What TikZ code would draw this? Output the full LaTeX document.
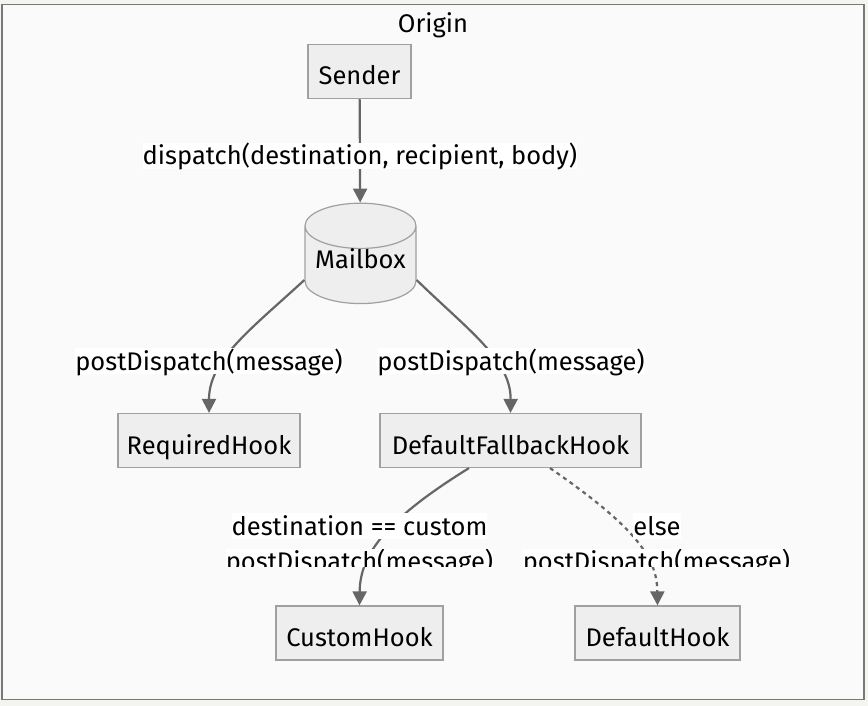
\documentclass[tikz,border=0pt]{standalone}
\usepackage{fontspec}
\setmainfont{Fira Sans}
\usetikzlibrary{positioning,shapes.geometric,arrows.meta,calc}
\definecolor{hookline}{RGB}{102,102,102}
\definecolor{hookfill}{RGB}{238,238,238}
\definecolor{hookborder}{RGB}{160,160,160}
\definecolor{hookframe}{RGB}{120,120,120}
\definecolor{hookcluster}{RGB}{250,250,250}
\definecolor{hookpage}{RGB}{244,244,240}
\tikzset{
    hook text/.style={font=\fontsize{25.5}{30}\selectfont, text=black},
    hook box/.style={
        rectangle,
        draw=hookborder,
        fill=hookfill,
        line width=1.2pt,
        minimum height=54pt,
        inner sep=0pt,
        text height=27pt,
        text depth=0pt,
        hook text,
    },
    hook db/.style={
        cylinder,
        shape border rotate=90,
        aspect=0.5,
        draw=hookborder,
        fill=hookfill,
        line width=1.2pt,
        minimum width=111pt,
        minimum height=98pt,
        inner sep=0pt,
        text depth=12pt,
        hook text,
    },
    hook flow/.style={draw=hookline, line width=2.2pt, -{Triangle[length=14pt,width=14pt]}},
    hook dotted/.style={hook flow, dash pattern=on 4pt off 4pt},
    hook label/.style={fill=white, inner sep=0pt, text height=22pt, text depth=4pt, hook text}
}

\begin{document}
\begin{tikzpicture}[x=1pt,y=-1pt]

\useasboundingbox (0,0) rectangle (868,706);
\fill[hookpage] (0,0) rectangle (868,706);
\draw[hookframe, fill=hookcluster, line width=1.5pt] (2,4.5) rectangle (864,699.5);
\node[hook text] (origin) at (433,25) {Origin};

%Nodes at their pixel positions
\node[hook box, minimum width=103pt] (sender) at (359.5,71.5) {Sender};
\node[hook db] (mailbox) at (360.5,265) {Mailbox};
\node[hook box, minimum width=182pt] (reqhook) at (209,440.5) {RequiredHook};
\node[hook box, minimum width=261pt] (fallback) at (510.5,440.5) {DefaultFallbackHook};
\node[hook box, minimum width=167pt] (customhook) at (359.5,633) {CustomHook};
\node[hook box, minimum width=165pt] (defaulthook) at (657.5,633) {DefaultHook};

\draw[hook flow] (sender) -- (mailbox);
\draw[hook flow] ($(mailbox.west)+(0,15)$) .. controls (250,330) and (209,360) .. (reqhook.north);
\draw[hook flow] ($(mailbox.east)+(0,15)$) .. controls (468,330) and (511,360) .. (fallback.north);
\draw[hook flow] ($(fallback.south)+(-41.5,0)$) .. controls (385,520) and (360,555) .. (customhook.north);
\draw[hook dotted] ($(fallback.south)+(39.5,0)$) .. controls (640,530) and (657,560) .. (defaulthook.north);

\node[hook label] (dispatch-label) at (360,156) {dispatch(destination, recipient, body)};
\node[hook label] (req-label) at (209,361) {postDispatch(message)};
\node[hook label] (fallback-label) at (511,361) {postDispatch(message)};
\node[hook label] (custom-label) at (359.5,526) {destination == custom};
\node[hook label] (else-label) at (657,526) {else};

%Second lines of the two lower labels are cut off
\begin{scope}
\clip (0,549) rectangle (868,566);
\node[hook label] (custom-label2) at (359.5,561) {postDispatch(message)};
\node[hook label] (else-label2) at (656.5,561) {postDispatch(message)};
\end{scope}

\end{tikzpicture}
\end{document}
